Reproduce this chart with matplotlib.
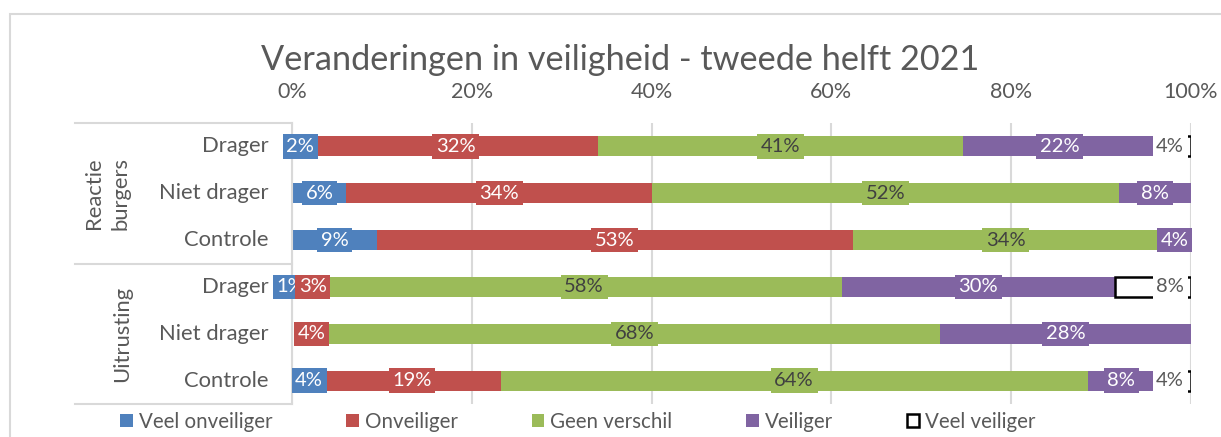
import numpy as np
import matplotlib
matplotlib.use('Agg')
import matplotlib.pyplot as plt
from matplotlib.patches import Rectangle

# rows from top to bottom
groups = ['Reactie\nburgers', 'Uitrusting']
rows = ['Drager', 'Niet drager', 'Controle', 'Drager', 'Niet drager', 'Controle']

series = ['Veel onveiliger', 'Onveiliger', 'Geen verschil', 'Veiliger', 'Veel veiliger']

# segment widths (in %)
veel_onveiliger = [3.0, 5.9, 9.3, 1.9, 0.0, 3.2]
onveiliger = [31.6, 34.1, 53.0, 3.0, 3.8, 19.7]
geen_verschil = [40.6, 51.9, 34.0, 57.4, 68.0, 65.3]
veiliger = [21.6, 8.0, 3.6, 30.3, 27.9, 7.5]
veel_veiliger = [3.8, 0.0, 0.0, 8.5, 0.0, 4.0]

# data labels as printed on the chart
lab_veel_onveiliger = ['2%', '6%', '9%', '1%', '', '4%']
lab_onveiliger = ['32%', '34%', '53%', '3%', '4%', '19%']
lab_geen_verschil = ['41%', '52%', '34%', '58%', '68%', '64%']
lab_veiliger = ['22%', '8%', '4%', '30%', '28%', '8%']
lab_veel_veiliger = ['4%', '', '', '8%', '', '4%']

x_ticks = [0, 20, 40, 60, 80, 100]
x_ticklabels = ['0%', '20%', '40%', '60%', '80%', '100%']

colors = ['#4f81bd', '#c0504d', '#9bbb59', '#8064a2', 'white']
text_colors = ['white', 'white', '#404040', 'white', '#595959']
gray = '#595959'

plt.rcParams['font.family'] = ['Lato', 'DejaVu Sans']

fig = plt.figure(figsize=(12.21, 4.37), dpi=100)
ax = fig.add_axes([292/1221, 1 - 404/437, 899/1221, 281/437])

values = [veel_onveiliger, onveiliger, geen_verschil, veiliger, veel_veiliger]
labels = [lab_veel_onveiliger, lab_onveiliger, lab_geen_verschil, lab_veiliger, lab_veel_veiliger]

y = np.arange(len(rows))
totals = np.sum(values, axis=0)
left = 100 - totals  # bars end at 100%
bar_h = 0.43

handles = []
starts = []
for i, vals in enumerate(values):
    vals = np.array(vals)
    if i == 4:
        b = ax.barh(y[vals > 0], vals[vals > 0], left=left[vals > 0], height=bar_h,
                    color='white', edgecolor='black', linewidth=1.8, zorder=2,
                    label=series[i])
    else:
        b = ax.barh(y, vals, left=left, height=bar_h, color=colors[i], zorder=2,
                    label=series[i])
    handles.append(b)
    starts.append(left.copy())
    left = left + vals

# data labels
for i, vals in enumerate(values):
    for r in range(len(rows)):
        txt = labels[i][r]
        if not txt:
            continue
        if i == 4:
            xe = starts[i][r] + vals[r]
            ax.annotate(txt, (xe, y[r]), xytext=(-5, 0), textcoords='offset points',
                        ha='right', va='center', fontsize=14.5, color=text_colors[i],
                        zorder=5,
                        bbox=dict(boxstyle='square,pad=0.18', fc='white', ec='none'))
        else:
            xc = starts[i][r] + vals[r] / 2
            ax.text(xc, y[r], txt, ha='center', va='center', fontsize=14.5,
                    color=text_colors[i], zorder=5,
                    bbox=dict(boxstyle='square,pad=0.18', fc=colors[i], ec='none'))

ax.set_xlim(0, 100)
ax.set_ylim(len(rows) - 0.5, -0.5)
ax.xaxis.tick_top()
ax.set_xticks(x_ticks)
ax.set_xticklabels(x_ticklabels)
ax.tick_params(axis='x', length=0, pad=15, labelsize=15.5, labelcolor=gray)
ax.set_yticks([])
ax.grid(axis='x', color='#d9d9d9', linewidth=1.5, zorder=0)
for s in ['top', 'right', 'bottom']:
    ax.spines[s].set_visible(False)
ax.spines['left'].set_color('#d9d9d9')
ax.spines['left'].set_linewidth(1.5)

# multi-level category axis
tr = ax.get_yaxis_transform()
for r, name in enumerate(rows):
    ax.text(-0.026, y[r], name, transform=tr, ha='right', va='center',
            fontsize=15.8, color=gray)
for yy in [-0.5, 2.5, 5.5]:
    ax.plot([-0.2414, 0], [yy, yy], transform=tr, color='#d9d9d9', lw=1.5,
            clip_on=False)
ax.text(-0.2058, 1, groups[0], transform=tr, rotation=90, ha='center',
        va='center', fontsize=15.8, color=gray, linespacing=1.4, multialignment='center')
ax.text(-0.189, 4, groups[1], transform=tr, rotation=90, ha='center',
        va='center', fontsize=15.8, color=gray)

fig.text(0.508, 0.862, 'Veranderingen in veiligheid - tweede helft 2021',
         ha='center', va='center', fontsize=24.7, color=gray)

leg = fig.legend(handles=handles, loc='center', bbox_to_anchor=(578/1221, 0.034),
                 ncol=5, frameon=False, fontsize=14.8, labelcolor=gray,
                 handlelength=0.6, handleheight=0.6, handletextpad=0.3,
                 columnspacing=3.6)

# outer chart border
fig.patches.append(Rectangle((10/1221, -0.1), 1.5, 1.1 - 14/437,
                             transform=fig.transFigure, fill=False,
                             edgecolor='#d9d9d9', linewidth=1.5))

fig.savefig('out.png', dpi=100)
